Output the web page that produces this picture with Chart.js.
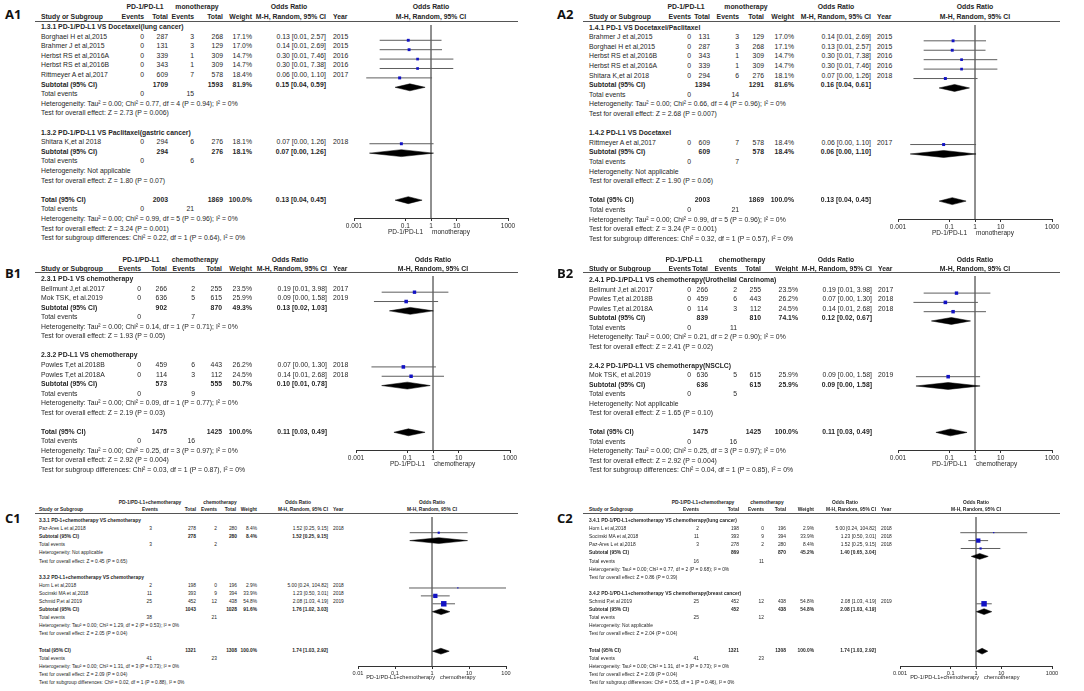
<!DOCTYPE html>
<html>
<head>
<meta charset="utf-8">
<script src="https://cdn.jsdelivr.net/npm/chart.js@4.4.1/dist/chart.umd.min.js"></script>
<style>
  html, body { margin: 0; padding: 0; background: #fff; }
  #page { position: relative; width: 1084px; height: 691px; overflow: hidden; font-family: "Liberation Sans", Arial, sans-serif; color: #262626; }
  .t { position: absolute; white-space: nowrap; line-height: 1; }
  .tag { font-family: "Open Sans", "Liberation Sans", sans-serif; font-weight: bold; color: #111; }
  .rule { position: absolute; height: 0; border-top: 1px solid #555; }
  canvas { position: absolute; }
</style>
</head>
<body>
<div id="page"></div>
<script>
// column headings shared by every panel
const colHeads = ['Study or Subgroup', 'Events', 'Total', 'Events', 'Total', 'Weight', 'M-H, Random, 95% CI', 'Year'];

// row kinds: g = subgroup title, s = study, S = subtotal, T = total, e = total events, n = note, '' = blank

// ---- A1 ----
const a1Groups = ['PD-1/PD-L1', 'monotherapy'];
const a1Rows = [
  ['g', '1.3.1 PD-1/PD-L1 VS Docetaxel(lung cancer)'],
  ['s', 'Borghaei H et al,2015', '0', '287', '3', '268', '17.1%', '0.13 [0.01, 2.57]', '2015'],
  ['s', 'Brahmer J et al,2015', '0', '131', '3', '129', '17.0%', '0.14 [0.01, 2.69]', '2015'],
  ['s', 'Herbst RS et al,2016A', '0', '339', '1', '309', '14.7%', '0.30 [0.01, 7.46]', '2016'],
  ['s', 'Herbst RS et al,2016B', '0', '343', '1', '309', '14.7%', '0.30 [0.01, 7.38]', '2016'],
  ['s', 'Rittmeyer A et al,2017', '0', '609', '7', '578', '18.4%', '0.06 [0.00, 1.10]', '2017'],
  ['S', 'Subtotal (95% CI)', '', '1709', '', '1593', '81.9%', '0.15 [0.04, 0.59]'],
  ['e', 'Total events', '0', '', '15'],
  ['n', 'Heterogeneity: Tau² = 0.00; Chi² = 0.77, df = 4 (P = 0.94); I² = 0%'],
  ['n', 'Test for overall effect: Z = 2.73 (P = 0.006)'],
  [''],
  ['g', '1.3.2 PD-1/PD-L1 VS Paclitaxel(gastric cancer)'],
  ['s', 'Shitara K,et al 2018', '0', '294', '6', '276', '18.1%', '0.07 [0.00, 1.26]', '2018'],
  ['S', 'Subtotal (95% CI)', '', '294', '', '276', '18.1%', '0.07 [0.00, 1.26]'],
  ['e', 'Total events', '0', '', '6'],
  ['n', 'Heterogeneity: Not applicable'],
  ['n', 'Test for overall effect: Z = 1.80 (P = 0.07)'],
  [''],
  ['T', 'Total (95% CI)', '', '2003', '', '1869', '100.0%', '0.13 [0.04, 0.45]'],
  ['e', 'Total events', '0', '', '21'],
  ['n', 'Heterogeneity: Tau² = 0.00; Chi² = 0.99, df = 5 (P = 0.96); I² = 0%'],
  ['n', 'Test for overall effect: Z = 3.24 (P = 0.001)'],
  ['n', 'Test for subgroup differences: Chi² = 0.22, df = 1 (P = 0.64), I² = 0%']
];
// odds ratio and CI for the s / S / T rows, in row order
const a1Or = [0.13, 0.14, 0.30, 0.30, 0.06, 0.15, 0.07, 0.07, 0.13];
const a1Lo = [0.01, 0.01, 0.01, 0.01, 0.003, 0.04, 0.004, 0.004, 0.04];
const a1Hi = [2.57, 2.69, 7.46, 7.38, 1.10, 0.59, 1.26, 1.26, 0.45];
const a1Ticks = [0.001, 0.1, 1, 10, 1000];

// ---- A2 ----
const a2Groups = ['PD-1/PD-L1', 'monotherapy'];
const a2Rows = [
  ['g', '1.4.1 PD-1 VS Docetaxel/Paclitaxel'],
  ['s', 'Brahmer J et al,2015', '0', '131', '3', '129', '17.0%', '0.14 [0.01, 2.69]', '2015'],
  ['s', 'Borghaei H et al,2015', '0', '287', '3', '268', '17.1%', '0.13 [0.01, 2.57]', '2015'],
  ['s', 'Herbst RS et al,2016B', '0', '343', '1', '309', '14.7%', '0.30 [0.01, 7.38]', '2016'],
  ['s', 'Herbst RS et al,2016A', '0', '339', '1', '309', '14.7%', '0.30 [0.01, 7.46]', '2016'],
  ['s', 'Shitara K,et al 2018', '0', '294', '6', '276', '18.1%', '0.07 [0.00, 1.26]', '2018'],
  ['S', 'Subtotal (95% CI)', '', '1394', '', '1291', '81.6%', '0.16 [0.04, 0.61]'],
  ['e', 'Total events', '0', '', '14'],
  ['n', 'Heterogeneity: Tau² = 0.00; Chi² = 0.66, df = 4 (P = 0.96); I² = 0%'],
  ['n', 'Test for overall effect: Z = 2.68 (P = 0.007)'],
  [''],
  ['g', '1.4.2 PD-L1 VS Docetaxel'],
  ['s', 'Rittmeyer A et al,2017', '0', '609', '7', '578', '18.4%', '0.06 [0.00, 1.10]', '2017'],
  ['S', 'Subtotal (95% CI)', '', '609', '', '578', '18.4%', '0.06 [0.00, 1.10]'],
  ['e', 'Total events', '0', '', '7'],
  ['n', 'Heterogeneity: Not applicable'],
  ['n', 'Test for overall effect: Z = 1.90 (P = 0.06)'],
  [''],
  ['T', 'Total (95% CI)', '', '2003', '', '1869', '100.0%', '0.13 [0.04, 0.45]'],
  ['e', 'Total events', '0', '', '21'],
  ['n', 'Heterogeneity: Tau² = 0.00; Chi² = 0.99, df = 5 (P = 0.96); I² = 0%'],
  ['n', 'Test for overall effect: Z = 3.24 (P = 0.001)'],
  ['n', 'Test for subgroup differences: Chi² = 0.32, df = 1 (P = 0.57), I² = 0%']
];
const a2Or = [0.14, 0.13, 0.30, 0.30, 0.07, 0.16, 0.06, 0.06, 0.13];
const a2Lo = [0.01, 0.01, 0.01, 0.01, 0.004, 0.04, 0.003, 0.003, 0.04];
const a2Hi = [2.69, 2.57, 7.38, 7.46, 1.26, 0.61, 1.10, 1.10, 0.45];
const a2Ticks = [0.001, 0.1, 1, 10, 1000];

// ---- B1 ----
const b1Groups = ['PD-1/PD-L1', 'chemotherapy'];
const b1Rows = [
  ['g', '2.3.1 PD-1 VS chemotherapy'],
  ['s', 'Bellmunt J,et al.2017', '0', '266', '2', '255', '23.5%', '0.19 [0.01, 3.98]', '2017'],
  ['s', 'Mok TSK, et al.2019', '0', '636', '5', '615', '25.9%', '0.09 [0.00, 1.58]', '2019'],
  ['S', 'Subtotal (95% CI)', '', '902', '', '870', '49.3%', '0.13 [0.02, 1.03]'],
  ['e', 'Total events', '0', '', '7'],
  ['n', 'Heterogeneity: Tau² = 0.00; Chi² = 0.14, df = 1 (P = 0.71); I² = 0%'],
  ['n', 'Test for overall effect: Z = 1.93 (P = 0.05)'],
  [''],
  ['g', '2.3.2 PD-L1 VS chemotherapy'],
  ['s', 'Powles T,et al.2018B', '0', '459', '6', '443', '26.2%', '0.07 [0.00, 1.30]', '2018'],
  ['s', 'Powles T,et al.2018A', '0', '114', '3', '112', '24.5%', '0.14 [0.01, 2.68]', '2018'],
  ['S', 'Subtotal (95% CI)', '', '573', '', '555', '50.7%', '0.10 [0.01, 0.78]'],
  ['e', 'Total events', '0', '', '9'],
  ['n', 'Heterogeneity: Tau² = 0.00; Chi² = 0.09, df = 1 (P = 0.77); I² = 0%'],
  ['n', 'Test for overall effect: Z = 2.19 (P = 0.03)'],
  [''],
  ['T', 'Total (95% CI)', '', '1475', '', '1425', '100.0%', '0.11 [0.03, 0.49]'],
  ['e', 'Total events', '0', '', '16'],
  ['n', 'Heterogeneity: Tau² = 0.00; Chi² = 0.25, df = 3 (P = 0.97); I² = 0%'],
  ['n', 'Test for overall effect: Z = 2.92 (P = 0.004)'],
  ['n', 'Test for subgroup differences: Chi² = 0.03, df = 1 (P = 0.87), I² = 0%']
];
const b1Or = [0.19, 0.09, 0.13, 0.07, 0.14, 0.10, 0.11];
const b1Lo = [0.01, 0.005, 0.02, 0.004, 0.01, 0.01, 0.03];
const b1Hi = [3.98, 1.58, 1.03, 1.30, 2.68, 0.78, 0.49];
const b1Ticks = [0.001, 0.1, 1, 10, 1000];

// ---- B2 ----
const b2Groups = ['PD-1/PD-L1', 'chemotherapy'];
const b2Rows = [
  ['g', '2.4.1 PD-1/PD-L1 VS chemotherapy(Urothelial Carcinoma)'],
  ['s', 'Bellmunt J,et al.2017', '0', '266', '2', '255', '23.5%', '0.19 [0.01, 3.98]', '2017'],
  ['s', 'Powles T,et al.2018B', '0', '459', '6', '443', '26.2%', '0.07 [0.00, 1.30]', '2018'],
  ['s', 'Powles T,et al.2018A', '0', '114', '3', '112', '24.5%', '0.14 [0.01, 2.68]', '2018'],
  ['S', 'Subtotal (95% CI)', '', '839', '', '810', '74.1%', '0.12 [0.02, 0.67]'],
  ['e', 'Total events', '0', '', '11'],
  ['n', 'Heterogeneity: Tau² = 0.00; Chi² = 0.21, df = 2 (P = 0.90); I² = 0%'],
  ['n', 'Test for overall effect: Z = 2.41 (P = 0.02)'],
  [''],
  ['g', '2.4.2 PD-1/PD-L1 VS chemotherapy(NSCLC)'],
  ['s', 'Mok TSK, et al.2019', '0', '636', '5', '615', '25.9%', '0.09 [0.00, 1.58]', '2019'],
  ['S', 'Subtotal (95% CI)', '', '636', '', '615', '25.9%', '0.09 [0.00, 1.58]'],
  ['e', 'Total events', '0', '', '5'],
  ['n', 'Heterogeneity: Not applicable'],
  ['n', 'Test for overall effect: Z = 1.65 (P = 0.10)'],
  [''],
  ['T', 'Total (95% CI)', '', '1475', '', '1425', '100.0%', '0.11 [0.03, 0.49]'],
  ['e', 'Total events', '0', '', '16'],
  ['n', 'Heterogeneity: Tau² = 0.00; Chi² = 0.25, df = 3 (P = 0.97); I² = 0%'],
  ['n', 'Test for overall effect: Z = 2.92 (P = 0.004)'],
  ['n', 'Test for subgroup differences: Chi² = 0.04, df = 1 (P = 0.85), I² = 0%']
];
const b2Or = [0.19, 0.07, 0.14, 0.12, 0.09, 0.09, 0.11];
const b2Lo = [0.01, 0.004, 0.01, 0.02, 0.005, 0.005, 0.03];
const b2Hi = [3.98, 1.30, 2.68, 0.67, 1.58, 1.58, 0.49];
const b2Ticks = [0.001, 0.1, 1, 10, 1000];

// ---- C1 ----
const c1Groups = ['PD-1/PD-L1+chemotherapy', 'chemotherapy'];
const c1Rows = [
  ['g', '3.3.1 PD-1+chemotherapy VS chemotherapy'],
  ['s', 'Paz-Ares L et al,2018', '3', '278', '2', '280', '8.4%', '1.52 [0.25, 9.15]', '2018'],
  ['S', 'Subtotal (95% CI)', '', '278', '', '280', '8.4%', '1.52 [0.25, 9.15]'],
  ['e', 'Total events', '3', '', '2'],
  ['n', 'Heterogeneity: Not applicable'],
  ['n', 'Test for overall effect: Z = 0.45 (P = 0.65)'],
  [''],
  ['g', '3.3.2 PD-L1+chemotherapy VS chemotherapy'],
  ['s', 'Horn L et al,2018', '2', '198', '0', '196', '2.9%', '5.00 [0.24, 104.82]', '2018'],
  ['s', 'Socinski MA et al,2018', '11', '393', '9', '394', '33.9%', '1.23 [0.50, 3.01]', '2018'],
  ['s', 'Schmid P,et al 2019', '25', '452', '12', '438', '54.8%', '2.08 [1.03, 4.19]', '2019'],
  ['S', 'Subtotal (95% CI)', '', '1043', '', '1028', '91.6%', '1.76 [1.02, 3.03]'],
  ['e', 'Total events', '38', '', '21'],
  ['n', 'Heterogeneity: Tau² = 0.00; Chi² = 1.29, df = 2 (P = 0.53); I² = 0%'],
  ['n', 'Test for overall effect: Z = 2.05 (P = 0.04)'],
  [''],
  ['T', 'Total (95% CI)', '', '1321', '', '1308', '100.0%', '1.74 [1.03, 2.92]'],
  ['e', 'Total events', '41', '', '23'],
  ['n', 'Heterogeneity: Tau² = 0.00; Chi² = 1.31, df = 3 (P = 0.73); I² = 0%'],
  ['n', 'Test for overall effect: Z = 2.09 (P = 0.04)'],
  ['n', 'Test for subgroup differences: Chi² = 0.02, df = 1 (P = 0.88), I² = 0%']
];
const c1Or = [1.52, 1.52, 5.00, 1.23, 2.08, 1.76, 1.74];
const c1Lo = [0.25, 0.25, 0.24, 0.50, 1.03, 1.02, 1.03];
const c1Hi = [9.15, 9.15, 104.82, 3.01, 4.19, 3.03, 2.92];
const c1Ticks = [0.01, 0.1, 1, 10, 100];

// ---- C2 ----
const c2Groups = ['PD-1/PD-L1+chemotherapy', 'chemotherapy'];
const c2Rows = [
  ['g', '3.4.1 PD-1/PD-L1+chemotherapy VS chemotherapy(lung cancer)'],
  ['s', 'Horn L et al,2018', '2', '198', '0', '196', '2.9%', '5.00 [0.24, 104.82]', '2018'],
  ['s', 'Socinski MA et al,2018', '11', '393', '9', '394', '33.9%', '1.23 [0.50, 3.01]', '2018'],
  ['s', 'Paz-Ares L et al,2018', '3', '278', '2', '280', '8.4%', '1.52 [0.25, 9.15]', '2018'],
  ['S', 'Subtotal (95% CI)', '', '869', '', '870', '45.2%', '1.40 [0.65, 3.04]'],
  ['e', 'Total events', '16', '', '11'],
  ['n', 'Heterogeneity: Tau² = 0.00; Chi² = 0.77, df = 2 (P = 0.68); I² = 0%'],
  ['n', 'Test for overall effect: Z = 0.86 (P = 0.39)'],
  [''],
  ['g', '3.4.2 PD-1/PD-L1+chemotherapy VS chemotherapy(breast cancer)'],
  ['s', 'Schmid P,et al 2019', '25', '452', '12', '438', '54.8%', '2.08 [1.03, 4.19]', '2019'],
  ['S', 'Subtotal (95% CI)', '', '452', '', '438', '54.8%', '2.08 [1.03, 4.19]'],
  ['e', 'Total events', '25', '', '12'],
  ['n', 'Heterogeneity: Not applicable'],
  ['n', 'Test for overall effect: Z = 2.04 (P = 0.04)'],
  [''],
  ['T', 'Total (95% CI)', '', '1321', '', '1308', '100.0%', '1.74 [1.03, 2.92]'],
  ['e', 'Total events', '41', '', '23'],
  ['n', 'Heterogeneity: Tau² = 0.00; Chi² = 1.31, df = 3 (P = 0.73); I² = 0%'],
  ['n', 'Test for overall effect: Z = 2.09 (P = 0.04)'],
  ['n', 'Test for subgroup differences: Chi² = 0.55, df = 1 (P = 0.46), I² = 0%']
];
const c2Or = [5.00, 1.23, 1.52, 1.40, 2.08, 2.08, 1.74];
const c2Lo = [0.24, 0.50, 0.25, 0.65, 1.03, 1.03, 1.03];
const c2Hi = [104.82, 3.01, 9.15, 3.04, 4.19, 4.19, 2.92];
const c2Ticks = [0.001, 0.1, 1, 10, 1000];

Chart.defaults.animation = false;
Chart.defaults.font.family = '"Liberation Sans", Arial, sans-serif';

const page = document.getElementById('page');

// text is drawn a bit taller and squeezed sideways, like the RevMan export
function put(txt, x, y, size, align, bold, sx, cls) {
  const d = document.createElement('div');
  d.className = cls || 't';
  d.textContent = txt;
  d.style.left = x + 'px';
  d.style.top = y + 'px';
  d.style.fontSize = size + 'px';
  if (bold) d.style.fontWeight = 'bold';
  const tx = align === 'right' ? '-100%' : align === 'center' ? '-50%' : '0';
  d.style.transformOrigin = align === 'right' ? 'right center' : align === 'center' ? 'center center' : 'left center';
  d.style.transform = 'translate(' + tx + ', -50%) scaleX(' + (sx || 1) + ')';
  page.appendChild(d);
}

function drawPanel(p) {
  const n = p.rows.length;
  const rowY = i => p.row0 + i * p.rowH;
  const fs = p.font, sx = p.squeeze;
  const center = (p.axL + p.axR) / 2;

  put(p.tag, p.tagX, p.tagY, 13, 'left', true, 1, 't tag');

  // header lines
  put(p.groups[0], p.g1, p.head1Y, fs, 'center', true, sx);
  put(p.groups[1], p.g2, p.head1Y, fs, 'center', true, sx);
  put('Odds Ratio', p.orC, p.head1Y, fs, 'center', true, sx);
  put('Odds Ratio', center, p.head1Y, fs, 'center', true, sx);
  colHeads.forEach((h, c) => {
    const align = (c === 0 || c === 7) ? 'left' : 'right';
    const x = (p.headCols && p.headCols[c]) || p.cols[c];
    put(h, x, p.head2Y, fs, align, true, sx);
  });
  put('M-H, Random, 95% CI', center, p.head2Y, fs, 'center', true, sx);

  const rule = document.createElement('div');
  rule.className = 'rule';
  rule.style.left = p.x1 + 'px';
  rule.style.width = (p.x2 - p.x1) + 'px';
  rule.style.top = p.lineY + 'px';
  page.appendChild(rule);

  // table body
  p.rows.forEach((r, i) => {
    const kind = r[0];
    if (!kind) return;
    const y = rowY(i);
    const bold = kind === 'g' || kind === 'S' || kind === 'T';
    put(r[1], p.cols[0], y, fs, 'left', bold, sx);
    for (let c = 2; c < r.length; c++) {
      if (!r[c]) continue;
      put(r[c], p.cols[c - 1], y, fs, c === 8 ? 'left' : 'right', bold, sx);
    }
  });

  // plot
  const axisY = rowY(n - 3) - 1;
  const axisH = Math.round(p.tickFont + 7);
  const padX = 18;
  const top = p.lineY;
  const w = p.axR - p.axL + 2 * padX;
  const h = Math.round(axisY - top + axisH);
  const rTop = (top - p.row0) / p.rowH;
  const rBot = (axisY - p.row0) / p.rowH;
  const halfH = 0.37;

  const cv = document.createElement('canvas');
  cv.width = w; cv.height = h;
  cv.style.width = w + 'px'; cv.style.height = h + 'px';
  cv.style.left = (p.axL - padX) + 'px';
  cv.style.top = top + 'px';
  page.appendChild(cv);

  const datasets = [{
    data: [{x: 1, y: rTop}, {x: 1, y: rBot}],
    showLine: true, borderColor: '#808080', borderWidth: 1, pointRadius: 0, order: 5
  }];
  const marks = [], radii = [];
  let k = 0;
  p.rows.forEach((r, i) => {
    const kind = r[0];
    if (kind === 's') {
      datasets.push({
        data: [{x: p.lo[k], y: i}, {x: p.hi[k], y: i}],
        showLine: true, borderColor: '#5e5e5e', borderWidth: 1, pointRadius: 0, order: 3
      });
      marks.push({x: p.or[k], y: i});
      radii.push(0.58 * Math.sqrt(parseFloat(r[6])) * p.markScale);
      k++;
    } else if (kind === 'S' || kind === 'T') {
      datasets.push({
        data: [
          {x: p.lo[k], y: i}, {x: p.or[k], y: i - halfH},
          {x: p.hi[k], y: i}, {x: p.or[k], y: i + halfH}, {x: p.lo[k], y: i}
        ],
        showLine: true, fill: 'shape', tension: 0,
        borderColor: '#000', backgroundColor: '#000', borderWidth: 0.5, pointRadius: 0, order: 2
      });
      k++;
    }
  });
  datasets.push({
    data: marks, showLine: false, pointStyle: 'rect', pointRadius: radii,
    pointBackgroundColor: '#1212c4', pointBorderWidth: 0, order: 0
  });

  new Chart(cv, {
    type: 'scatter',
    data: {datasets},
    options: {
      responsive: false,
      events: [],
      layout: {padding: {left: padX, right: padX, top: 0, bottom: 0}},
      plugins: {legend: {display: false}, tooltip: {enabled: false}},
      scales: {
        x: {
          type: 'logarithmic',
          position: 'bottom',
          min: p.ticks[0],
          max: p.ticks[p.ticks.length - 1],
          afterBuildTicks: s => { s.ticks = p.ticks.map(v => ({value: v})); },
          afterFit: s => { s.height = axisH; },
          border: {color: '#333', width: 1},
          grid: {drawOnChartArea: false, drawTicks: true, tickLength: 3, color: '#333'},
          ticks: {
            autoSkip: false, maxRotation: 0, padding: 1, color: '#2a2a2a',
            font: {size: p.tickFont},
            callback: v => String(v)
          }
        },
        y: {type: 'linear', display: false, reverse: true, min: rTop, max: rBot}
      }
    }
  });

  // labels under the axis
  const subY = axisY + 1.47 * p.rowH;
  put(p.groups[0], center + p.lOff, subY, p.tickFont, 'right', false, 1);
  put(p.groups[1], center + p.rOff, subY, p.tickFont, 'left', false, 1);
}

const panels = [
  {tag: 'A1', tagX: 5, tagY: 14, groups: a1Groups, rows: a1Rows, or: a1Or, lo: a1Lo, hi: a1Hi, ticks: a1Ticks,
   head1Y: 7, head2Y: 16.5, lineY: 21, x1: 35, x2: 518, row0: 27, rowH: 9.6, font: 7.6, squeeze: 0.9, tickFont: 6.5,
   cols: [41, 144, 168, 194, 223, 252, 326, 333], g1: 145, g2: 197, orC: 289,
   axL: 354, axR: 508, lOff: -8, rOff: 1, markScale: 0.85},
  {tag: 'A2', tagX: 557, tagY: 14, groups: a2Groups, rows: a2Rows, or: a2Or, lo: a2Lo, hi: a2Hi, ticks: a2Ticks,
   head1Y: 7, head2Y: 16.5, lineY: 21, x1: 583, x2: 1060, row0: 27.5, rowH: 9.6, font: 7.6, squeeze: 0.9, tickFont: 6.5,
   cols: [589, 691, 710, 739, 764, 794, 871, 877], g1: 686, g2: 746, orC: 836,
   axL: 898, axR: 1052, lOff: -8, rOff: 1, markScale: 0.85},
  {tag: 'B1', tagX: 5, tagY: 273, groups: b1Groups, rows: b1Rows, or: b1Or, lo: b1Lo, hi: b1Hi, ticks: b1Ticks,
   head1Y: 260, head2Y: 268.5, lineY: 272, x1: 35, x2: 518, row0: 279, rowH: 9.55, font: 7.6, squeeze: 0.9, tickFont: 6.5,
   cols: [41, 141, 167, 195, 222, 252, 327, 333], g1: 141, g2: 195, orC: 290,
   axL: 356, axR: 510, lOff: -8, rOff: 1, markScale: 0.85},
  {tag: 'B2', tagX: 557, tagY: 273, groups: b2Groups, rows: b2Rows, or: b2Or, lo: b2Lo, hi: b2Hi, ticks: b2Ticks,
   head1Y: 260, head2Y: 268.5, lineY: 272, x1: 583, x2: 1060, row0: 280, rowH: 9.5, font: 7.6, squeeze: 0.9, tickFont: 6.5,
   cols: [589, 691, 708, 737, 761, 798, 872, 878], g1: 684, g2: 742, orC: 836,
   axL: 898, axR: 1052, lOff: -8, rOff: 1, markScale: 0.85},
  {tag: 'C1', tagX: 5, tagY: 518, groups: c1Groups, rows: c1Rows, or: c1Or, lo: c1Lo, hi: c1Hi, ticks: c1Ticks,
   head1Y: 503, head2Y: 510, lineY: 513, x1: 35, x2: 518, row0: 521, rowH: 8.1, font: 5.8, squeeze: 0.84, tickFont: 5.6,
   cols: [39, 152, 196, 217, 237, 257, 328, 333], headCols: [0, 158, 196, 217, 236, 257], g1: 150, g2: 220, orC: 298,
   axL: 358, axR: 506, lOff: 3, rOff: 8, markScale: 0.9},
  {tag: 'C2', tagX: 557, tagY: 518, groups: c2Groups, rows: c2Rows, or: c2Or, lo: c2Lo, hi: c2Hi, ticks: c2Ticks,
   head1Y: 503, head2Y: 510, lineY: 513, x1: 583, x2: 1060, row0: 521, rowH: 8.1, font: 5.8, squeeze: 0.84, tickFont: 5.6,
   cols: [589, 699, 739, 764, 786, 814, 876, 881], g1: 703, g2: 767, orC: 845,
   axL: 900, axR: 1052, lOff: 3, rOff: 8, markScale: 0.9}
];

panels.forEach(drawPanel);
</script>
</body>
</html>
